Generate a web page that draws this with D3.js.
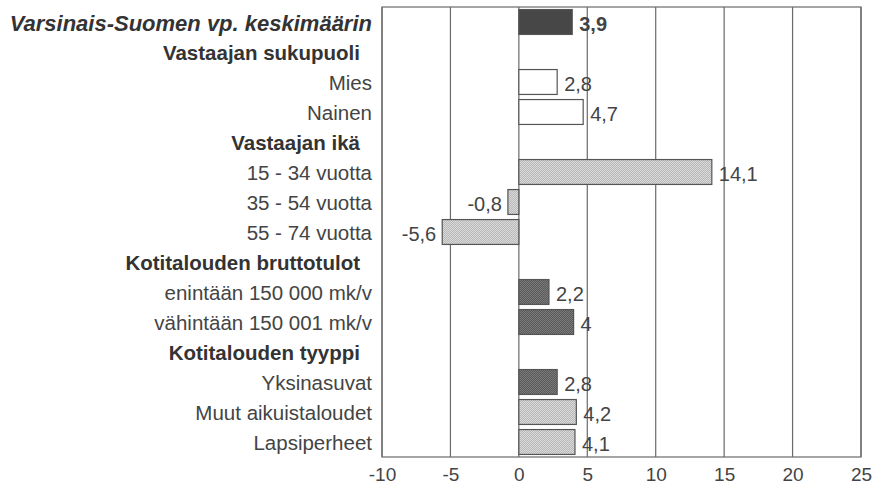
<!DOCTYPE html>
<html>
<head>
<meta charset="utf-8">
<script src="https://cdn.jsdelivr.net/npm/d3@7"></script>
<style>
  body { margin: 0; background: #fff; }
  text { font-family: "Liberation Sans", Arial, sans-serif; fill: #444; }
</style>
</head>
<body>
<svg id="chart" width="873" height="489"></svg>
<script>
// rows of the chart, top to bottom; headers have no value
var categories = [
  "Varsinais-Suomen vp. keskimäärin",
  "Vastaajan sukupuoli",
  "Mies",
  "Nainen",
  "Vastaajan ikä",
  "15 - 34 vuotta",
  "35 - 54 vuotta",
  "55 - 74 vuotta",
  "Kotitalouden bruttotulot",
  "enintään 150 000 mk/v",
  "vähintään 150 001 mk/v",
  "Kotitalouden tyyppi",
  "Yksinasuvat",
  "Muut aikuistaloudet",
  "Lapsiperheet"
];
var values = [3.9, null, 2.8, 4.7, null, 14.1, -0.8, -5.6, null, 2.2, 4, null, 2.8, 4.2, 4.1];
// kind of row: total, header, or bar fill group
var kinds = ["total", "header", "white", "white", "header", "light", "light", "light",
             "header", "dark", "dark", "header", "dark", "light", "light"];
var xTicks = [-10, -5, 0, 5, 10, 15, 20, 25];

var svg = d3.select("#chart"),
    margin = {top: 7, right: 12, bottom: 32, left: 382},
    width = +svg.attr("width") - margin.left - margin.right,
    height = +svg.attr("height") - margin.top - margin.bottom;

var fi = d3.formatLocale({decimal: ",", thousands: " ", grouping: [3], currency: ["", ""], minus: "-"});
var fmt = fi.format("~g");

// checker patterns that mimic the printed raster
var defs = svg.append("defs");
function checker(id, a, b) {
  var p = defs.append("pattern").attr("id", id)
      .attr("width", 2).attr("height", 2).attr("patternUnits", "userSpaceOnUse");
  p.append("rect").attr("width", 2).attr("height", 2).attr("fill", a);
  p.append("rect").attr("width", 1).attr("height", 1).attr("fill", b);
  p.append("rect").attr("x", 1).attr("y", 1).attr("width", 1).attr("height", 1).attr("fill", b);
}
checker("pLight", "#dadada", "#b8b8b8");
checker("pDark", "#7a7a7a", "#5a5a5a");

var fills = {total: "#474747", white: "#fff", light: "url(#pLight)", dark: "url(#pDark)"};

var x = d3.scaleLinear().domain([-10, 25]).range([0, width]);
var y = d3.scaleBand().domain(d3.range(categories.length)).range([0, height]).paddingInner(0.17).paddingOuter(0.085);

var g = svg.append("g").attr("transform", "translate(" + margin.left + "," + margin.top + ")");

// grid lines
g.selectAll(".grid")
  .data(xTicks)
  .enter().append("line")
    .attr("x1", function(d) { return x(d); })
    .attr("x2", function(d) { return x(d); })
    .attr("y1", 0).attr("y2", height)
    .attr("stroke", "#6a6a6a").attr("stroke-width", 1.2);

g.append("rect")
  .attr("width", width).attr("height", height)
  .attr("fill", "none").attr("stroke", "#6a6a6a").attr("stroke-width", 1.2);

var rows = categories.map(function(c, i) { return {name: c, value: values[i], kind: kinds[i], i: i}; });
var bars = rows.filter(function(d) { return d.value !== null; });

g.selectAll(".bar")
  .data(bars)
  .enter().append("rect")
    .attr("class", "bar")
    .attr("x", function(d) { return x(Math.min(0, d.value)); })
    .attr("y", function(d) { return y(d.i); })
    .attr("width", function(d) { return Math.abs(x(d.value) - x(0)); })
    .attr("height", y.bandwidth())
    .attr("fill", function(d) { return fills[d.kind]; })
    .attr("stroke", "#555").attr("stroke-width", 1.2);

// value labels
g.selectAll(".val")
  .data(bars)
  .enter().append("text")
    .attr("class", "val")
    .attr("x", function(d) { return d.value < 0 ? x(d.value) - 6 : x(d.value) + 7; })
    .attr("y", function(d) { return y(d.i) + y.bandwidth() / 2 + 2; })
    .attr("dy", "0.35em")
    .attr("text-anchor", function(d) { return d.value < 0 ? "end" : "start"; })
    .style("font-size", "20px")
    .style("font-weight", function(d) { return d.kind == "total" ? "bold" : "normal"; })
    .text(function(d) { return fmt(d.value); });

// row labels
svg.append("g").selectAll(".cat")
  .data(rows)
  .enter().append("text")
    .attr("class", "cat")
    .attr("x", function(d) { return d.kind == "header" ? 360 : 372; })
    .attr("y", function(d) { return margin.top + y(d.i) + y.bandwidth() / 2 + 1; })
    .attr("dy", "0.35em")
    .attr("text-anchor", "end")
    .style("font-size", function(d) { return d.kind == "total" ? "22px" : "20.5px"; })
    .style("fill", function(d) { return d.kind == "header" || d.kind == "total" ? "#333" : "#444"; })
    .style("font-weight", function(d) { return d.kind == "header" || d.kind == "total" ? "bold" : "normal"; })
    .style("font-style", function(d) { return d.kind == "total" ? "italic" : "normal"; })
    .text(function(d) { return d.name; });

// x axis labels
g.append("g")
    .attr("transform", "translate(0," + height + ")")
    .call(d3.axisBottom(x).tickValues(xTicks).tickSize(0).tickPadding(11).tickFormat(fi.format("d")))
    .call(function(a) { a.select(".domain").remove(); })
  .selectAll("text")
    .style("font-size", "19px")
    .style("font-family", "'Liberation Sans', Arial, sans-serif")
    .attr("fill", "#444");
</script>
</body>
</html>
